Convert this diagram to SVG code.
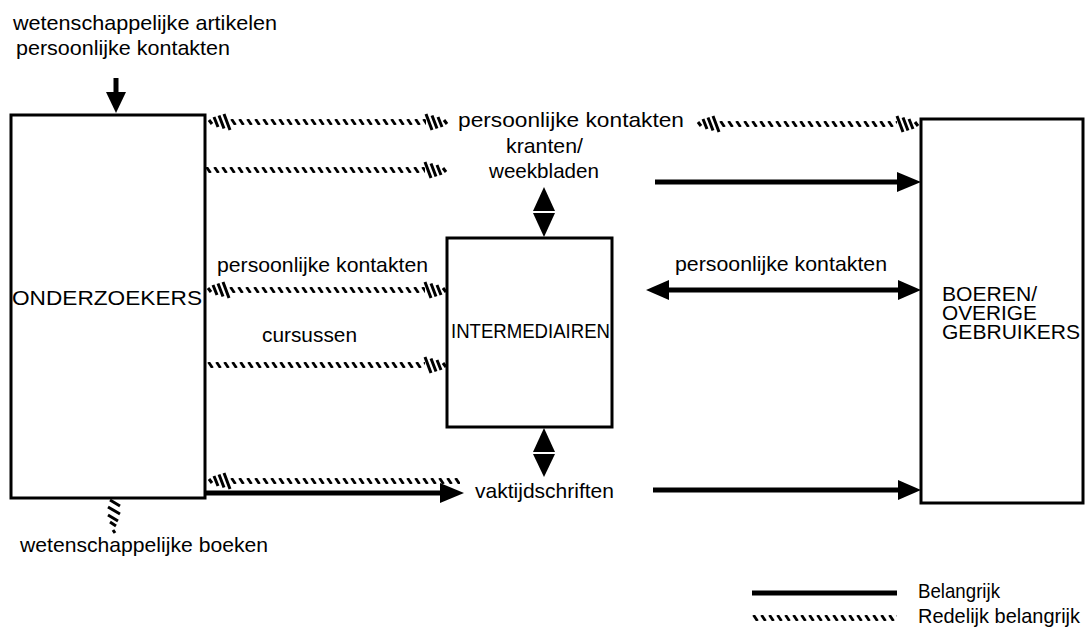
<svg xmlns="http://www.w3.org/2000/svg" width="1092" height="634" viewBox="0 0 1092 634">
<style>
text{font-family:"Liberation Sans",Arial,sans-serif;font-size:21px;fill:#000}
.box{fill:#fff;stroke:#000;stroke-width:3}
.sl{stroke:#000;stroke-width:5;fill:none}
.hd{fill:#000;stroke:none}
.hs{stroke:#000;stroke-width:3;fill:none;stroke-linecap:butt}
</style>
<defs>
<pattern id="hatch" patternUnits="userSpaceOnUse" x="0" y="-3" width="8" height="6">
<path d="M1.5,0 L5.5,6" stroke="#000" stroke-width="2.8"/>
</pattern>
<g id="hr"><path class="hs" d="M-22,-8 L-16,8 M-16,-6.5 L-11,6.5 M-10,-5 L-6,5 M-4,-2 L-1,2"/></g>
<g id="hl"><path class="hs" d="M1,-2 L4,2 M6,-5 L10,5 M11,-6.5 L16,6.5 M16,-8 L22,8"/></g>
</defs>

<g id="onderzoekers">
<rect class="box" x="11" y="115" width="194" height="383"/>
<text x="12" y="305" textLength="190" lengthAdjust="spacingAndGlyphs">ONDERZOEKERS</text>
</g>
<g id="intermediairen">
<rect class="box" x="447" y="238" width="165" height="189"/>
<text x="451" y="338" textLength="159" lengthAdjust="spacingAndGlyphs">INTERMEDIAIREN</text>
</g>
<g id="boeren">
<rect class="box" x="921" y="119" width="162" height="384"/>
<text x="942" y="301" textLength="95" lengthAdjust="spacingAndGlyphs">BOEREN/</text>
<text x="942" y="320" textLength="95" lengthAdjust="spacingAndGlyphs">OVERIGE</text>
<text x="942" y="339" textLength="138" lengthAdjust="spacingAndGlyphs">GEBRUIKERS</text>
</g>

<g id="connectors">
<!-- top input arrow -->
<line class="sl" x1="116" y1="78" x2="116" y2="95"/>
<polygon class="hd" points="106,92 116,113 126,92"/>
<!-- hatched row 1 -->
<use href="#hl" x="208" y="122"/>
<g transform="translate(230,122)"><rect x="0" y="-3" width="196" height="6" fill="url(#hatch)"/></g>
<use href="#hr" x="448" y="122"/>
<use href="#hl" x="697" y="124"/>
<g transform="translate(719,124)"><rect x="0" y="-3" width="178" height="6" fill="url(#hatch)"/></g>
<use href="#hr" x="919" y="124"/>
<!-- hatched row 2 -->
<g transform="translate(205,170)"><rect x="0" y="-3" width="220" height="6" fill="url(#hatch)"/></g>
<use href="#hr" x="447" y="170"/>
<!-- solid kranten -> boeren -->
<line class="sl" x1="655" y1="182" x2="900" y2="182"/>
<polygon class="hd" points="897,172 921,182 897,192"/>
<!-- kranten <-> intermediairen -->
<polygon class="hd" points="533,211 544,187 555,211"/>
<polygon class="hd" points="533,213 544,237 555,213"/>
<!-- hatched persoonlijke kontakten -->
<use href="#hl" x="207" y="290"/>
<g transform="translate(229,290)"><rect x="0" y="-3" width="196" height="6" fill="url(#hatch)"/></g>
<use href="#hr" x="447" y="290"/>
<!-- hatched cursussen -->
<g transform="translate(207,365)"><rect x="0" y="-3" width="218" height="6" fill="url(#hatch)"/></g>
<use href="#hr" x="447" y="365"/>
<!-- solid double intermediairen <-> boeren -->
<line class="sl" x1="665" y1="290" x2="902" y2="290"/>
<polygon class="hd" points="669,280 646,290 669,300"/>
<polygon class="hd" points="898,280 921,290 898,300"/>
<!-- intermediairen <-> vaktijdschriften -->
<polygon class="hd" points="533,452 544,428 555,452"/>
<polygon class="hd" points="533,454 544,477 555,454"/>
<!-- vaktijdschriften -> boeren -->
<line class="sl" x1="653" y1="490" x2="900" y2="490"/>
<polygon class="hd" points="898,480 921,490 898,500"/>
<!-- bottom left hatched and solid -->
<use href="#hl" x="208" y="481"/>
<g transform="translate(230,481)"><rect x="0" y="-3" width="230" height="6" fill="url(#hatch)"/></g>
<line class="sl" x1="205" y1="493" x2="445" y2="493"/>
<polygon class="hd" points="440,483 464,493 440,503"/>
<!-- wetenschappelijke boeken hatched -->
<path class="hs" d="M110,500 L120,506 M108,507 L120,514 M108,515 L118,521 M110,522 L116,526 M113,530 L115,533"/>
</g>

<g id="labels">
<text x="13" y="30" textLength="264" lengthAdjust="spacingAndGlyphs">wetenschappelijke artikelen</text>
<text x="16" y="55" textLength="214" lengthAdjust="spacingAndGlyphs">persoonlijke kontakten</text>
<text x="458" y="127" textLength="226" lengthAdjust="spacingAndGlyphs">persoonlijke kontakten</text>
<text x="506" y="153" textLength="77" lengthAdjust="spacingAndGlyphs">kranten/</text>
<text x="489" y="178" textLength="110" lengthAdjust="spacingAndGlyphs">weekbladen</text>
<text x="217" y="272" textLength="211" lengthAdjust="spacingAndGlyphs">persoonlijke kontakten</text>
<text x="262" y="342" textLength="95" lengthAdjust="spacingAndGlyphs">cursussen</text>
<text x="675" y="271" textLength="212" lengthAdjust="spacingAndGlyphs">persoonlijke kontakten</text>
<text x="475" y="498" textLength="139" lengthAdjust="spacingAndGlyphs">vaktijdschriften</text>
<text x="20" y="552" textLength="248" lengthAdjust="spacingAndGlyphs">wetenschappelijke boeken</text>
</g>

<g id="legend">
<line class="sl" x1="752" y1="593" x2="897" y2="593"/>
<text x="918" y="598" textLength="82" lengthAdjust="spacingAndGlyphs">Belangrijk</text>
<g transform="translate(752,618)"><rect x="0" y="-3" width="145" height="6" fill="url(#hatch)"/></g>
<text x="918" y="623" textLength="162" lengthAdjust="spacingAndGlyphs">Redelijk belangrijk</text>
</g>
</svg>
